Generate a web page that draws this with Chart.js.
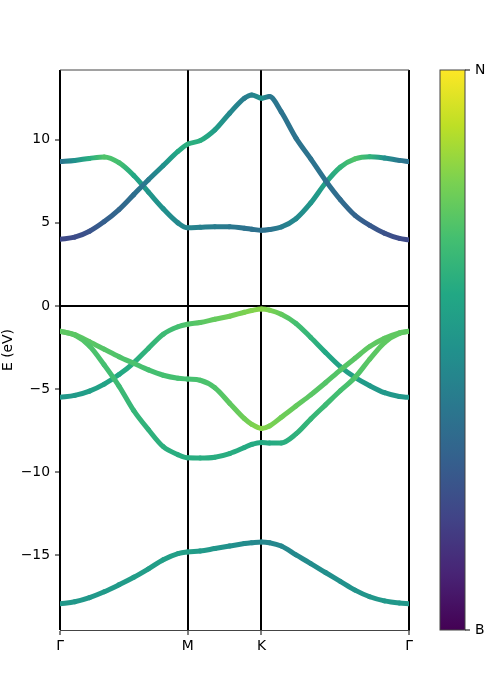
<!DOCTYPE html>
<html>
<head>
<meta charset="utf-8">
<script src="https://cdn.jsdelivr.net/npm/chart.js@4.4.0/dist/chart.umd.min.js"></script>
<style>
  html, body { margin: 0; padding: 0; background: #fff; }
</style>
</head>
<body>
<canvas id="bands" width="500" height="700"></canvas>
<script>
// k-path (Γ - M - K - Γ) and the energy axis
const kLabels = ['Γ', 'M', 'K', 'Γ'];
const kTicks = [0, 0.866, 1.366, 2.366];
const eTicks = [-15, -10, -5, 0, 5, 10];
const kPath = [0, 0.1, 0.2, 0.3, 0.4, 0.5, 0.6, 0.7, 0.8, 0.866,
               0.95, 1.05, 1.15, 1.25, 1.3, 1.366,
               1.42, 1.5, 1.6, 1.7, 1.8, 1.9, 2.0, 2.1, 2.2, 2.3, 2.366];

// band energies (eV)
const bandDeep = [-17.92, -17.8, -17.55, -17.2, -16.78, -16.33, -15.82, -15.27, -14.9, -14.8,
                  -14.75, -14.6, -14.45, -14.3, -14.25, -14.2,
                  -14.25, -14.45, -14.98, -15.5, -16.04, -16.57, -17.1, -17.5, -17.75, -17.88, -17.92];
const bandV1 = [-1.52, -1.75, -2.41, -3.55, -4.82, -6.3, -7.45, -8.47, -8.95, -9.14,
                -9.15, -9.1, -8.88, -8.52, -8.33, -8.21,
                -8.24, -8.24, -7.7, -6.8, -5.95, -5.1, -4.3, -3.2, -2.2, -1.66, -1.52];
const bandV2 = [-1.52, -1.72, -2.15, -2.6, -3.05, -3.45, -3.85, -4.17, -4.35, -4.4,
                -4.47, -4.92, -5.85, -6.78, -7.12, -7.37,
                -7.22, -6.7, -6.02, -5.35, -4.62, -3.86, -3.15, -2.44, -1.95, -1.62, -1.52];
const bandV3 = [-5.5, -5.38, -5.12, -4.7, -4.13, -3.42, -2.54, -1.7, -1.25, -1.1,
                -1.0, -0.8, -0.62, -0.38, -0.27, -0.18,
                -0.25, -0.5, -1.05, -1.9, -2.8, -3.65, -4.3, -4.8, -5.22, -5.45, -5.5];
const bandC1 = [4.02, 4.14, 4.5, 5.08, 5.8, 6.7, 7.6, 8.45, 9.3, 9.74,
                9.95, 10.6, 11.6, 12.5, 12.7, 12.5,
                12.6, 11.68, 10.1, 8.85, 7.55, 6.4, 5.45, 4.85, 4.38, 4.07, 3.98];
const bandC2 = [8.69, 8.76, 8.88, 8.97, 8.62, 7.85, 6.85, 5.85, 5.0, 4.7,
                4.73, 4.77, 4.76, 4.68, 4.62, 4.55,
                4.6, 4.75, 5.25, 6.2, 7.4, 8.35, 8.85, 8.98, 8.9, 8.76, 8.69];

// N character of each band (0 = B, 1 = N)
const nDeep = [0.53, 0.53, 0.53, 0.54, 0.54, 0.55, 0.55, 0.56, 0.56, 0.56,
               0.54, 0.52, 0.5, 0.48, 0.47, 0.46,
               0.46, 0.46, 0.47, 0.48, 0.49, 0.5, 0.51, 0.52, 0.53, 0.53, 0.53];
const nV1 = [0.75, 0.74, 0.72, 0.7, 0.68, 0.66, 0.64, 0.63, 0.62, 0.62,
             0.62, 0.62, 0.62, 0.61, 0.61, 0.61,
             0.61, 0.62, 0.64, 0.66, 0.68, 0.7, 0.72, 0.74, 0.75, 0.75, 0.75];
const nV2 = [0.75, 0.75, 0.74, 0.73, 0.72, 0.71, 0.7, 0.7, 0.7, 0.7,
             0.71, 0.72, 0.75, 0.78, 0.8, 0.82,
             0.8, 0.78, 0.76, 0.74, 0.73, 0.73, 0.74, 0.75, 0.75, 0.75, 0.75];
const nV3 = [0.53, 0.54, 0.56, 0.58, 0.6, 0.62, 0.65, 0.68, 0.7, 0.72,
             0.74, 0.76, 0.78, 0.8, 0.81, 0.82,
             0.8, 0.76, 0.7, 0.65, 0.6, 0.57, 0.55, 0.54, 0.53, 0.53, 0.53];
const nC1 = [0.22, 0.23, 0.26, 0.3, 0.33, 0.36, 0.42, 0.5, 0.6, 0.63,
             0.62, 0.55, 0.47, 0.42, 0.44, 0.5,
             0.4, 0.38, 0.38, 0.38, 0.37, 0.35, 0.32, 0.28, 0.25, 0.23, 0.22];
const nC2 = [0.38, 0.5, 0.62, 0.72, 0.7, 0.6, 0.52, 0.5, 0.47, 0.45,
             0.43, 0.42, 0.4, 0.38, 0.37, 0.37,
             0.38, 0.42, 0.47, 0.52, 0.56, 0.65, 0.72, 0.65, 0.5, 0.4, 0.37];

const FONT = 'DejaVu Sans';

// viridis colormap
const viridis = ['#440154', '#482475', '#414487', '#355f8d', '#2a788e', '#21918c',
                 '#22a884', '#44bf70', '#7ad151', '#bddf26', '#fde725'];

function hexRgb(h) {
    return [parseInt(h.slice(1, 3), 16), parseInt(h.slice(3, 5), 16), parseInt(h.slice(5, 7), 16)];
}

function cmap(t) {
    t = Math.max(0, Math.min(1, t)) * (viridis.length - 1);
    const i = Math.min(Math.floor(t), viridis.length - 2);
    const f = t - i;
    const a = hexRgb(viridis[i]), b = hexRgb(viridis[i + 1]);
    const c = a.map((v, j) => Math.round(v + (b[j] - v) * f));
    return `rgb(${c[0]},${c[1]},${c[2]})`;
}

// colour each segment with a gradient between its two end points
function gradSegment(weights) {
    return function (ctx) {
        const p0 = ctx.p0, p1 = ctx.p1;
        const g = ctx.chart.ctx.createLinearGradient(p0.x, p0.y, p1.x, p1.y);
        g.addColorStop(0, cmap(weights[ctx.p0DataIndex]));
        g.addColorStop(1, cmap(weights[ctx.p1DataIndex]));
        return g;
    };
}

function band(energies, weights) {
    return {
        data: kPath.map((k, i) => ({ x: k, y: energies[i] })),
        borderColor: cmap(weights[0]),
        borderWidth: 5,
        borderCapStyle: 'round',
        borderJoinStyle: 'round',
        pointRadius: 0,
        cubicInterpolationMode: 'monotone',
        segment: { borderColor: gradSegment(weights) }
    };
}

// top spine + colorbar
const framePlugin = {
    id: 'frame',
    afterDraw(chart) {
        const { ctx, chartArea: a } = chart;
        ctx.save();
        ctx.strokeStyle = '#444';
        ctx.lineWidth = 1;
        ctx.beginPath();
        ctx.moveTo(a.left, a.top);
        ctx.lineTo(a.right, a.top);
        ctx.stroke();

        const x0 = a.right + 31, w = 25;
        const g = ctx.createLinearGradient(0, a.bottom, 0, a.top);
        viridis.forEach((c, i) => g.addColorStop(i / (viridis.length - 1), c));
        ctx.fillStyle = g;
        ctx.fillRect(x0, a.top, w, a.bottom - a.top);
        ctx.strokeRect(x0, a.top, w, a.bottom - a.top);

        ctx.strokeStyle = '#000';
        ctx.beginPath();
        ctx.moveTo(x0 + w, a.top); ctx.lineTo(x0 + w + 5, a.top);
        ctx.moveTo(x0 + w, a.bottom); ctx.lineTo(x0 + w + 5, a.bottom);
        ctx.stroke();

        ctx.fillStyle = '#000';
        ctx.font = `13.9px "${FONT}"`;
        ctx.textBaseline = 'middle';
        ctx.textAlign = 'left';
        ctx.fillText('N', x0 + w + 10, a.top);
        ctx.fillText('B', x0 + w + 10, a.bottom);
        ctx.restore();
    }
};

new Chart(document.getElementById('bands'), {
    type: 'line',
    data: {
        datasets: [
            band(bandDeep, nDeep),
            band(bandV1, nV1),
            band(bandV2, nV2),
            band(bandV3, nV3),
            band(bandC1, nC1),
            band(bandC2, nC2)
        ]
    },
    options: {
        responsive: false,
        animation: false,
        layout: { padding: { top: 70, right: 91, left: 0, bottom: 0 } },
        plugins: { legend: { display: false }, tooltip: { enabled: false } },
        scales: {
            x: {
                type: 'linear',
                min: kTicks[0],
                max: kTicks[kTicks.length - 1],
                z: 1,
                afterBuildTicks: scale => { scale.ticks = kTicks.map(v => ({ value: v })); },
                afterFit: scale => { scale.height = 70; },
                grid: { color: '#000', lineWidth: 2, tickColor: '#000', tickWidth: 1, tickLength: 5 },
                border: { color: '#444', width: 1 },
                ticks: {
                    autoSkip: false,
                    maxRotation: 0,
                    padding: 3,
                    color: '#000',
                    font: { family: FONT, size: 13.9 },
                    callback: (v, i) => kLabels[i]
                }
            },
            y: {
                min: -19.5,
                max: 14.2,
                z: 1,
                afterBuildTicks: scale => { scale.ticks = eTicks.map(v => ({ value: v })); },
                afterFit: scale => { scale.width = 60; },
                grid: {
                    color: c => (c.tick && c.tick.value === 0 ? '#000' : 'rgba(0,0,0,0)'),
                    lineWidth: 2,
                    tickColor: '#000',
                    tickWidth: 1,
                    tickLength: 5
                },
                border: { display: false },
                title: {
                    display: true,
                    text: 'E (eV)',
                    color: '#000',
                    padding: 0,
                    font: { family: FONT, size: 13.9 }
                },
                ticks: {
                    padding: 5,
                    color: '#000',
                    font: { family: FONT, size: 13.9 },
                    callback: v => (v < 0 ? '\u2212' + Math.abs(v) : String(v))
                }
            }
        }
    },
    plugins: [framePlugin]
});
</script>
</body>
</html>
